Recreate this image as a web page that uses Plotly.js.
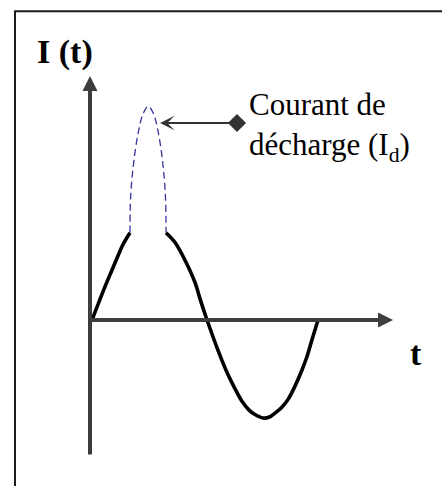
<!DOCTYPE html>
<html>
<head>
<meta charset="utf-8">
<script src="https://cdn.plot.ly/plotly-3.0.1.min.js"></script>
<style>html,body{margin:0;padding:0;background:#fff;}#chart{width:442px;height:486px;}</style>
</head>
<body>
<div id="chart"></div>
<script>
// Black current curve (rising part, before the discharge)
const tRise = [0, 1.15, 1.77, 2.30, 2.74, 3.36];
const iRise = [0, 0.34, 0.51, 0.655, 0.77, 0.89];
// Black current curve (after the discharge)
const tFall = [6.55, 7.35, 8.23, 9.12, 9.6, 10.18, 11.15, 12.04, 12.6, 13.27, 13.9, 14.42, 15.13, 15.7, 16.19, 16.8, 17.35, 17.9, 18.58, 19.0, 19.47, 20.0];
const iFall = [0.89, 0.79, 0.61, 0.38, 0.20, 0, -0.31, -0.56, -0.69, -0.83, -0.92, -0.965, -1.0, -0.99, -0.95, -0.89, -0.81, -0.69, -0.51, -0.38, -0.20, 0];
// Dashed discharge current peak (I_d)
const tPeak = [3.36, 3.42, 3.68, 4.09, 4.54, 4.98, 5.42, 5.87, 6.26, 6.50, 6.55];
const iPeak = [0.89, 1.26, 1.60, 1.91, 2.11, 2.18, 2.11, 1.91, 1.60, 1.26, 0.89];
// Texts
const yLabel = "<b>I (t)</b>";
const xLabel = "<b>t</b>";
const peakLabel = "Courant de<br>décharge (I<sub>d</sub>)";

const serif = "Liberation Serif, Times New Roman, serif";
const axisColor = "#3d3d3d";

const traces = [
  {x: tRise, y: iRise, mode: "lines", line: {color: "#000", width: 3.6, shape: "spline", smoothing: 0.9}, hoverinfo: "skip"},
  {x: tFall, y: iFall, mode: "lines", line: {color: "#000", width: 3.6, shape: "spline", smoothing: 0.9}, hoverinfo: "skip"},
  {x: tPeak, y: iPeak, mode: "lines", line: {color: "#34349e", width: 1.3, shape: "spline", dash: "7px,4px"}, hoverinfo: "skip"},
  {x: [12.83], y: [2.01], mode: "markers", marker: {symbol: "diamond", size: 14, color: "#333"}, hoverinfo: "skip"}
];

const layout = {
  width: 442, height: 486,
  margin: {l: 0, r: 0, t: 0, b: 0},
  paper_bgcolor: "#fff", plot_bgcolor: "#fff",
  showlegend: false,
  xaxis: {range: [-8.142, 30.97], visible: false, fixedrange: true},
  yaxis: {range: [-1.694, 3.265], visible: false, fixedrange: true},
  shapes: [
    {type: "path", xref: "paper", yref: "paper", path: "M0.0339,-0.01 L0.0339,0.977 L1.01,0.977", line: {color: "#1a1a1a", width: 2}}
  ],
  annotations: [
    // y axis with arrow
    {x: -0.177, y: 2.49, ax: -0.177, ay: -1.387, xref: "x", yref: "y", axref: "x", ayref: "y", text: "", showarrow: true,
     arrowhead: 2, arrowwidth: 4, arrowsize: 0.75, arrowcolor: axisColor},
    // x axis with arrow
    {x: 26.64, y: 0, ax: -0.354, ay: 0, xref: "x", yref: "y", axref: "x", ayref: "y", text: "", showarrow: true,
     arrowhead: 2, arrowwidth: 4, arrowsize: 0.75, arrowcolor: axisColor},
    // pointer to discharge peak
    {x: 6.02, y: 2.01, ax: 12.83, ay: 2.01, xref: "x", yref: "y", axref: "x", ayref: "y", text: "", showarrow: true,
     arrowhead: 3, arrowwidth: 2.2, arrowsize: 1.1, arrowcolor: "#333"},
    {x: 13.72, y: 1.97, xref: "x", yref: "y", text: peakLabel, showarrow: false, xanchor: "left", yanchor: "middle", align: "left",
     font: {family: serif, size: 31, color: "#000"}},
    {x: -2.39, y: 2.73, xref: "x", yref: "y", text: yLabel, showarrow: false, xanchor: "center", yanchor: "middle",
     font: {family: serif, size: 34, color: "#000"}},
    {x: 28.67, y: -0.347, xref: "x", yref: "y", text: xLabel, showarrow: false, xanchor: "center", yanchor: "middle",
     font: {family: serif, size: 34, color: "#000"}}
  ]
};

Plotly.newPlot("chart", traces, layout, {staticPlot: true, displayModeBar: false});
</script>
</body>
</html>
